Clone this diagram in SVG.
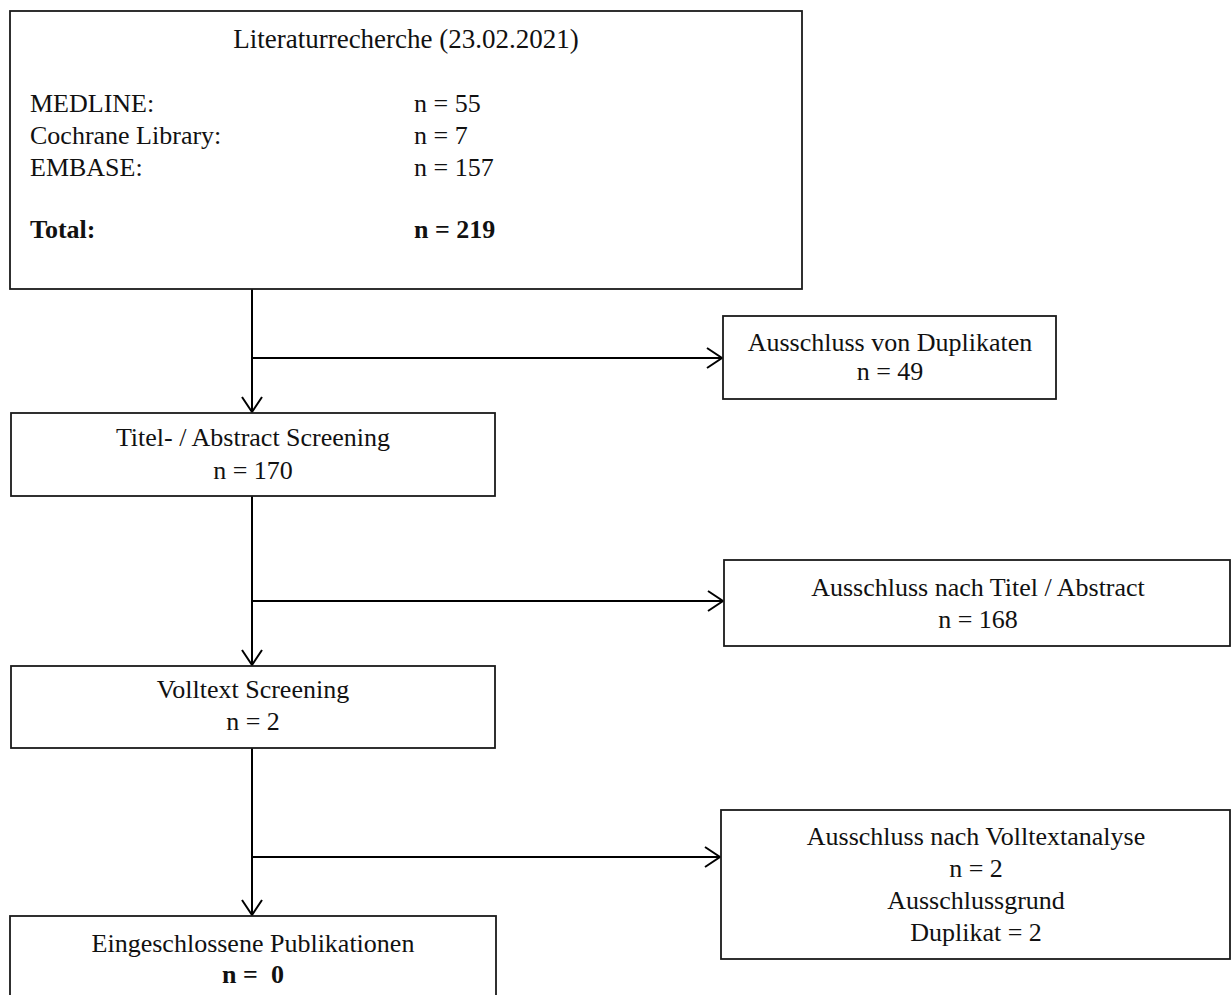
<svg xmlns="http://www.w3.org/2000/svg" width="1232" height="995" viewBox="0 0 1232 995">
<defs>
<style>
.box{fill:#fff;stroke:#1a1a1a;stroke-width:1.8}
.t{font-family:"Liberation Serif","Times New Roman",serif;font-size:26px;fill:#111}
.c{text-anchor:middle}
.b{font-weight:bold}
.ln{fill:none;stroke:#000;stroke-width:2}
</style>
<marker id="ah" markerWidth="20" markerHeight="24" refX="17" refY="12" orient="auto" markerUnits="userSpaceOnUse">
<path d="M2,2 L17,12 L2,22" fill="none" stroke="#000" stroke-width="2"/>
</marker>
</defs>
<rect width="1232" height="995" fill="#fff"/>
<g id="connectors">
<line class="ln" x1="252" y1="289" x2="252" y2="412" marker-end="url(#ah)"/>
<line class="ln" x1="252" y1="358" x2="722" y2="358" marker-end="url(#ah)"/>
<line class="ln" x1="252" y1="496" x2="252" y2="665" marker-end="url(#ah)"/>
<line class="ln" x1="252" y1="601" x2="723" y2="601" marker-end="url(#ah)"/>
<line class="ln" x1="252" y1="748" x2="252" y2="915" marker-end="url(#ah)"/>
<line class="ln" x1="252" y1="857" x2="720" y2="857" marker-end="url(#ah)"/>
</g>
<g id="literaturrecherche">
<rect class="box" x="10" y="11" width="792" height="278"/>
<text class="t c" x="406" y="48" style="font-size:27px">Literaturrecherche (23.02.2021)</text>
<text class="t" x="30" y="112">MEDLINE:</text>
<text class="t" x="414" y="112">n = 55</text>
<text class="t" x="30" y="144">Cochrane Library:</text>
<text class="t" x="414" y="144">n = 7</text>
<text class="t" x="30" y="176">EMBASE:</text>
<text class="t" x="414" y="176">n = 157</text>
<text class="t b" x="30" y="238">Total:</text>
<text class="t b" x="414" y="238">n = 219</text>
</g>
<g id="duplikate">
<rect class="box" x="723" y="316" width="333" height="83"/>
<text class="t c" x="890" y="351">Ausschluss von Duplikaten</text>
<text class="t c" x="890" y="380">n = 49</text>
</g>
<g id="titel-abstract">
<rect class="box" x="11" y="413" width="484" height="83"/>
<text class="t c" x="253" y="446">Titel- / Abstract Screening</text>
<text class="t c" x="253" y="479">n = 170</text>
</g>
<g id="ausschluss-titel">
<rect class="box" x="724" y="560" width="506" height="86"/>
<text class="t c" x="978" y="596">Ausschluss nach Titel / Abstract</text>
<text class="t c" x="978" y="628">n = 168</text>
</g>
<g id="volltext">
<rect class="box" x="11" y="666" width="484" height="82"/>
<text class="t c" x="253" y="698">Volltext Screening</text>
<text class="t c" x="253" y="730">n = 2</text>
</g>
<g id="ausschluss-volltext">
<rect class="box" x="721" y="810" width="509" height="149"/>
<text class="t c" x="976" y="845">Ausschluss nach Volltextanalyse</text>
<text class="t c" x="976" y="877">n = 2</text>
<text class="t c" x="976" y="909">Ausschlussgrund</text>
<text class="t c" x="976" y="941">Duplikat = 2</text>
</g>
<g id="eingeschlossen">
<rect class="box" x="10" y="916" width="486" height="100"/>
<text class="t c" x="253" y="952">Eingeschlossene Publikationen</text>
<text class="t c b" x="253" y="983" xml:space="preserve">n =  0</text>
</g>
</svg>
